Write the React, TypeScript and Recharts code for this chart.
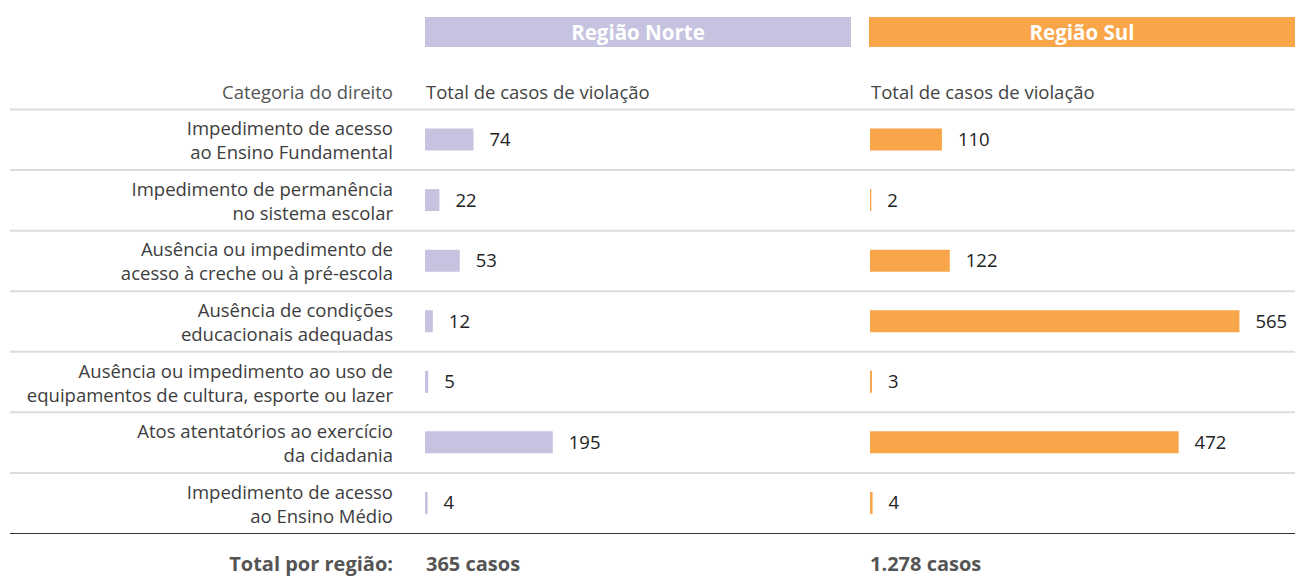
import { BarChart, Bar, XAxis, YAxis, LabelList } from 'recharts'

// Categories (each label split into its two printed lines)
const categories: string[][] = [
    ['Impedimento de acesso', 'ao Ensino Fundamental'],
    ['Impedimento de permanência', 'no sistema escolar'],
    ['Ausência ou impedimento de', 'acesso à creche ou à pré-escola'],
    ['Ausência de condições', 'educacionais adequadas'],
    ['Ausência ou impedimento ao uso de', 'equipamentos de cultura, esporte ou lazer'],
    ['Atos atentatórios ao exercício', 'da cidadania'],
    ['Impedimento de acesso', 'ao Ensino Médio'],
]
const norteValues = [74, 22, 53, 12, 5, 195, 4]
const sulValues = [110, 2, 122, 565, 3, 472, 4]
const regions = ['Região Norte', 'Região Sul']
const totals = ['365 casos', '1.278 casos']

const FONT = '"Open Sans", Lato, sans-serif'
const FS = 18.5
const W = 1295
const H = 583
const TOP = 109.5
const BOTTOM = 49.5
const ROW_H = (H - TOP - BOTTOM) / categories.length
const X_MAX = 650
const NORTE = '#c6c3e1'
const SUL = '#f9a64b'

const rows = categories.map((c, i) => ({ cat: c.join('|'), norte: norteValues[i], sul: sulValues[i] }))

function CategoryTick(props: any) {
    const { y, payload, index } = props
    const lines = String(payload.value).split('|')
    const last = index === categories.length - 1
    return (
        <g>
            <line x1={10} x2={W} y1={y - ROW_H / 2} y2={y - ROW_H / 2} stroke="#dcdcdc" strokeWidth={2} />
            {last && <line x1={10} x2={W} y1={y + ROW_H / 2} y2={y + ROW_H / 2} stroke="#333" strokeWidth={1} />}
            <text x={393} y={y - 12} textAnchor="end" dominantBaseline="central" fill="#3d3d3d" fontSize={FS} fontFamily={FONT}>
                {lines[0]}
            </text>
            <text x={393} y={y + 12} textAnchor="end" dominantBaseline="central" fill="#3d3d3d" fontSize={FS} fontFamily={FONT}>
                {lines[1]}
            </text>
        </g>
    )
}

const headerStyle = (left: number, bg: string): React.CSSProperties => ({
    position: 'absolute', left, top: 17, width: 426, height: 30, background: bg,
    color: '#fff', fontWeight: 700, fontSize: 20.5, lineHeight: '30px', textAlign: 'center',
})

const textStyle = (left: number, top: number, extra: React.CSSProperties = {}): React.CSSProperties => ({
    position: 'absolute', left, top, fontSize: FS, color: '#444', lineHeight: '20px', whiteSpace: 'nowrap', ...extra,
})

export default function App() {
    return (
        <div style={{ position: 'fixed', left: 0, top: 0, width: W, height: H, background: '#fff', fontFamily: FONT }}>
            <div style={headerStyle(425, NORTE)}>{regions[0]}</div>
            <div style={headerStyle(869, SUL)}>{regions[1]}</div>

            <div style={textStyle(0, 82, { width: 393, textAlign: 'right', color: '#555' })}>Categoria do direito</div>
            <div style={textStyle(426, 82)}>Total de casos de violação</div>
            <div style={textStyle(871, 82)}>Total de casos de violação</div>

            {/* Norte + category labels + row lines */}
            <div style={{ position: 'absolute', left: 0, top: 0 }}>
                <BarChart width={W} height={H} layout="vertical" data={rows}
                    margin={{ top: TOP, right: W - 851, bottom: BOTTOM, left: 0 }}>
                    <XAxis type="number" domain={[0, X_MAX]} hide />
                    <YAxis type="category" dataKey="cat" width={425} axisLine={false} tickLine={false}
                        interval={0} tick={<CategoryTick />} />
                    <Bar dataKey="norte" fill={NORTE} barSize={22} isAnimationActive={false}>
                        <LabelList dataKey="norte" position="right" offset={16} fill="#222" fontSize={FS} fontFamily={FONT} />
                    </Bar>
                </BarChart>
            </div>

            {/* Sul */}
            <div style={{ position: 'absolute', left: 869, top: 0 }}>
                <BarChart width={W - 869} height={H} layout="vertical" data={rows}
                    margin={{ top: TOP, right: 0, bottom: BOTTOM, left: 1 }}>
                    <XAxis type="number" domain={[0, X_MAX]} hide />
                    <YAxis type="category" dataKey="cat" hide />
                    <Bar dataKey="sul" fill={SUL} barSize={22} isAnimationActive={false}>
                        <LabelList dataKey="sul" position="right" offset={16} fill="#222" fontSize={FS} fontFamily={FONT} />
                    </Bar>
                </BarChart>
            </div>

            <div style={textStyle(0, 554, { width: 393, textAlign: 'right', fontWeight: 700, fontSize: 20, color: '#555' })}>Total por região:</div>
            <div style={textStyle(426, 554, { fontWeight: 700, fontSize: 20, color: '#555' })}>{totals[0]}</div>
            <div style={textStyle(870, 554, { fontWeight: 700, fontSize: 20, color: '#555' })}>{totals[1]}</div>
        </div>
    )
}
